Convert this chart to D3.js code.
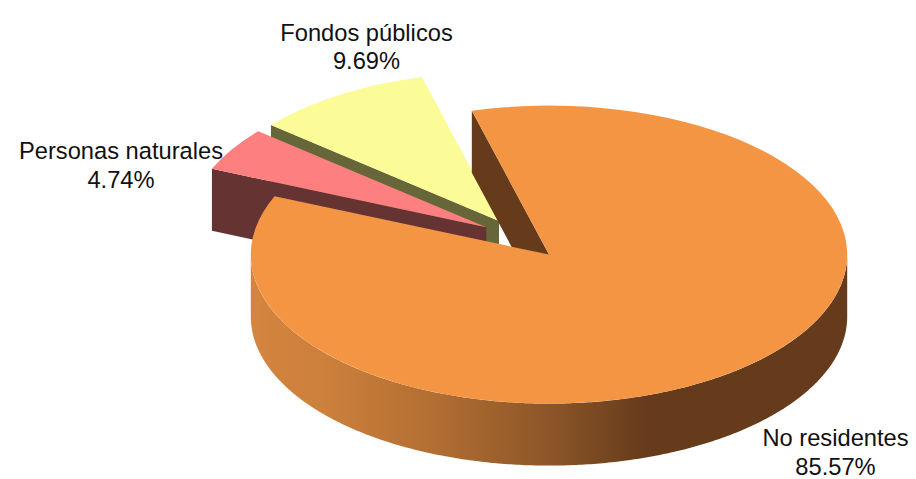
<!DOCTYPE html>
<html>
<head>
<meta charset="utf-8">
<script src="https://cdn.jsdelivr.net/npm/d3@7/dist/d3.min.js"></script>
<style>
html,body{margin:0;padding:0;background:#fff;}
svg{display:block;}
text{font-family:"Liberation Sans",Arial,sans-serif;font-size:23.7px;fill:#111;text-anchor:middle;}
</style>
</head>
<body>
<script>
// Data
const categories = ["No residentes", "Personas naturales", "Fondos públicos"];
const shares = [85.57, 4.74, 9.69];

// Appearance
const topColors = ["#f49544", "#fe7f7f", "#fbfb98"];
const wallColors = ["#663b1b", "#663333", "#666639"];

// Layout
const W = 916, H = 479;
const rx = 298.2, ry = 149, depth = 62;
const centers = [[549, 254.6], [486.3, 227.2], [499, 221]];
const labelAnchors = [[835.5, 446], [121, 159], [366.5, 40.5]];
const lineGap = 28.5;
const startDeg = -15;

const svg = d3.select("body").append("svg").attr("width", W).attr("height", H);

const defs = svg.append("defs");
const grad = defs.append("linearGradient").attr("id", "wallGrad")
  .attr("gradientUnits", "userSpaceOnUse")
  .attr("x1", 251).attr("x2", 848).attr("y1", 0).attr("y2", 0);
[[0, "#d4853f"], [0.12, "#cc803b"], [0.3, "#b46f33"], [0.5, "#8c5628"], [0.66, "#663b1b"], [1, "#663b1b"]]
  .forEach(([o, c]) => grad.append("stop").attr("offset", o).attr("stop-color", c));

const pie = d3.pie().sort(null).value(d => d)
  .startAngle(startDeg * Math.PI / 180)
  .endAngle(startDeg * Math.PI / 180 + 2 * Math.PI);
const arcs = pie(shares);

const arcGen = d3.arc().innerRadius(0).outerRadius(rx);
const px = (c, a) => c[0] + rx * Math.sin(a);
const py = (c, a) => c[1] - ry * Math.cos(a);

// Paint back to front: Fondos, Personas, No residentes
[2, 1, 0].forEach(i => {
  const c = centers[i], d = arcs[i];
  const g = svg.append("g");

  if (i === 0) {
    // Outer rim, the part facing the viewer (90deg to 270deg)
    const a0 = Math.PI / 2, a1 = Math.min(d.endAngle, 3 * Math.PI / 2);
    const angles = d3.range(a0, a1, 0.01).concat([a1]);
    g.append("path")
      .attr("d", d3.area().x(a => px(c, a)).y0(a => py(c, a)).y1(a => py(c, a) + depth)(angles))
      .attr("fill", "url(#wallGrad)");
  }

  // Radial wall that faces the viewer
  const corner = [px(c, d.startAngle), py(c, d.startAngle)];
  g.append("path")
    .attr("d", d3.line()([corner, [corner[0], corner[1] + depth], [c[0], c[1] + depth], c]) + "Z")
    .attr("fill", wallColors[i]);

  // Top face
  g.append("path")
    .attr("transform", `translate(${c[0]},${c[1]}) scale(1,${ry / rx})`)
    .attr("d", arcGen(d))
    .attr("fill", topColors[i]);
});

// Labels
categories.forEach((name, i) => {
  const t = svg.append("text").attr("x", labelAnchors[i][0]).attr("y", labelAnchors[i][1]);
  t.append("tspan").attr("x", labelAnchors[i][0]).text(name);
  t.append("tspan").attr("x", labelAnchors[i][0]).attr("dy", lineGap).text(d3.format(".2f")(shares[i]) + "%");
});
</script>
</body>
</html>
